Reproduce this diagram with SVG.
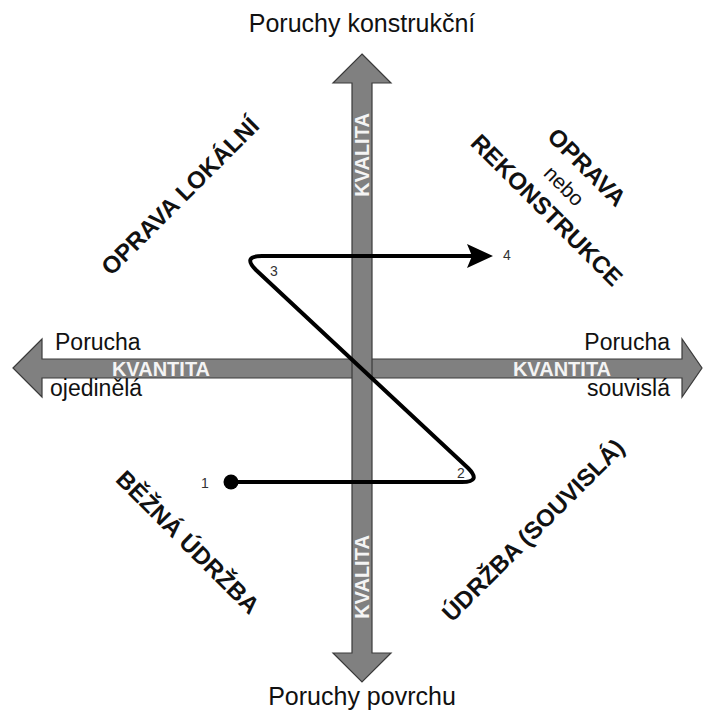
<svg xmlns="http://www.w3.org/2000/svg" width="703" height="713" viewBox="0 0 703 713">
<style>
text{font-family:"Liberation Sans",Arial,sans-serif;fill:#111}
.ax{font-size:23px}
.axt{font-size:25px}
.axl{font-size:20px;font-weight:bold;fill:#f4f4f4}
.q{font-size:24px;font-weight:bold}
.nb{font-size:21px}
.n{font-size:14px;fill:#333}
.arr{fill:#808080;stroke:#3a3a3a;stroke-width:1.2;stroke-linejoin:miter}
.path{fill:none;stroke:#000;stroke-width:4;stroke-linejoin:round}
</style>
<defs>
<marker id="ah" markerWidth="26" markerHeight="24" refX="13" refY="12" orient="auto" markerUnits="userSpaceOnUse" viewBox="0 0 26 24">
<path d="M0,0 L26,12 L0,24 L5,12 Z" fill="#000"/>
</marker>
</defs>
<rect width="703" height="713" fill="#fff"/>
<g id="axis-horizontal">
<polygon class="arr" points="13,368 42,339 42,359 682,359 682,339 702,368 682,397 682,378 42,378 42,397"/>
<text class="axl" x="161" y="375.5" text-anchor="middle">KVANTITA</text>
<text class="axl" x="562" y="375.5" text-anchor="middle">KVANTITA</text>
</g>
<g id="axis-vertical">
<polygon class="arr" points="362,54 391,83 372,83 372,653 391,653 362,682 333,653 352,653 352,83 333,83"/>
<text class="axl" transform="translate(369,155) rotate(-90)" text-anchor="middle">KVALITA</text>
<text class="axl" transform="translate(369,577) rotate(-90)" text-anchor="middle">KVALITA</text>
</g>
<g id="labels-axes">
<text class="axt" x="362" y="32" text-anchor="middle">Poruchy konstrukční</text>
<text class="axt" x="362" y="705" text-anchor="middle">Poruchy povrchu</text>
<text class="ax" x="55" y="350">Porucha</text>
<text class="ax" x="50" y="396">ojedinělá</text>
<text class="ax" x="670" y="350" text-anchor="end">Porucha</text>
<text class="ax" x="670" y="396" text-anchor="end">souvislá</text>
</g>
<g id="q-opr-lok"><text class="q" transform="translate(186,202) rotate(-45)" text-anchor="middle">OPRAVA LOKÁLNÍ</text></g>
<g id="q-opr-rek">
<text class="q" transform="translate(581,173) rotate(45)" text-anchor="middle">OPRAVA</text>
<text class="nb" transform="translate(559,191) rotate(45)" text-anchor="middle">nebo</text>
<text class="q" transform="translate(541,216) rotate(45)" text-anchor="middle">REKONSTRUKCE</text>
</g>
<g id="q-bezna"><text class="q" transform="translate(182,548) rotate(45)" text-anchor="middle">BĚŽNÁ ÚDRŽBA</text></g>
<g id="q-udrzba"><text class="q" transform="translate(539,536) rotate(-45)" text-anchor="middle">ÚDRŽBA (SOUVISLÁ)</text></g>
<g id="connectors">
<path class="path" d="M231,482 L462,482 Q482,482 468,468 L256,270 Q242,256 262,256 L480,256" marker-end="url(#ah)"/>
<circle cx="231" cy="482" r="7.5" fill="#000"/>
</g>
<g id="points">
<text class="n" x="201" y="488">1</text>
<text class="n" x="457" y="478">2</text>
<text class="n" x="270" y="276">3</text>
<text class="n" x="503" y="260">4</text>
</g>
</svg>
